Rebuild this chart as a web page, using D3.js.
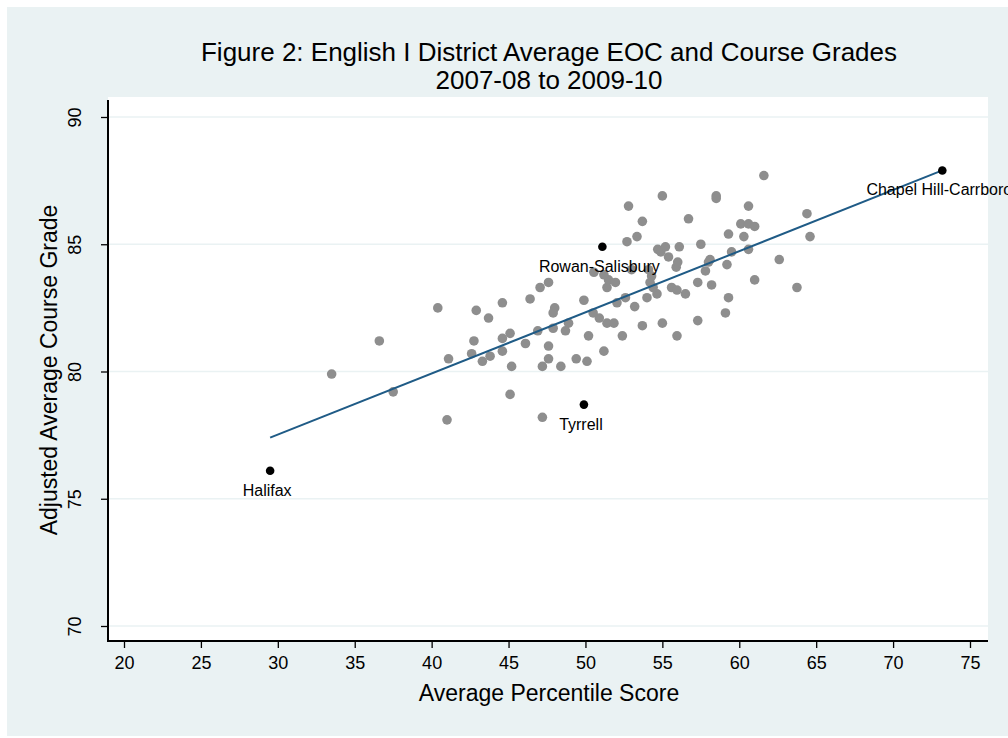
<!DOCTYPE html>
<html>
<head>
<meta charset="utf-8">
<script src="https://cdn.jsdelivr.net/npm/d3@7"></script>
<style>
  body { margin: 0; background: #ffffff; }
  svg { display: block; font-family: "Liberation Sans", Arial, sans-serif; }
</style>
</head>
<body>
<svg width="1008" height="738"></svg>
<script>
// district averages (percentile score, adjusted course grade)
const districtX = [33.5, 36.6, 37.5, 40.4, 41.1, 41.0, 42.9, 43.7, 42.75, 42.6, 43.3, 43.8,
	44.6, 46.4, 49.9, 48.0, 47.9, 45.1, 44.6, 46.9, 47.9, 48.9, 48.7, 46.1, 47.6, 44.6,
	47.6, 45.2, 47.2, 48.4, 49.4, 50.1, 50.2, 51.2, 45.1, 47.2, 47.05, 47.6,
	50.5, 50.9, 51.4, 51.85, 52.4, 52.05, 52.6, 53.2, 53.7, 54.0, 54.65, 55.0, 55.95, 56.5,
	57.3, 59.1, 59.3, 54.4, 55.6, 55.95, 51.4, 58.2, 57.3, 54.2, 51.5, 51.95, 61.0, 54.3,
	50.55, 51.2, 57.8, 53.0, 54.1, 55.9, 59.2, 58.0, 58.1, 56.0, 55.4, 62.6, 60.6, 59.5,
	57.5, 56.1, 54.7, 54.9, 55.2, 52.7, 53.35, 64.6, 60.3, 59.3, 60.1, 60.6, 61.0, 56.7,
	53.7, 64.4, 52.8, 60.6, 58.5, 58.5, 55.0, 61.6, 63.75];
const districtY = [79.9, 81.2, 79.2, 82.5, 80.5, 78.1, 82.4, 82.1, 81.2, 80.7, 80.4, 80.6,
	82.7, 82.85, 82.8, 82.5, 82.3, 81.5, 81.3, 81.6, 81.7, 81.9, 81.6, 81.1, 81.0, 80.8,
	80.5, 80.2, 80.2, 80.2, 80.5, 80.4, 81.4, 80.8, 79.1, 78.2, 83.3, 83.5,
	82.3, 82.1, 81.9, 81.9, 81.4, 82.7, 82.9, 82.55, 81.8, 82.9, 83.05, 81.9, 81.4, 83.05,
	82.0, 82.3, 82.9, 83.3, 83.3, 83.2, 83.3, 83.4, 83.5, 83.5, 83.6, 83.5, 83.6, 83.75,
	83.9, 83.8, 83.95, 84.0, 84.0, 84.1, 84.2, 84.3, 84.4, 84.3, 84.5, 84.4, 84.8, 84.7,
	85.0, 84.9, 84.8, 84.7, 84.9, 85.1, 85.3, 85.3, 85.3, 85.4, 85.8, 85.8, 85.7, 86.0,
	85.9, 86.2, 86.5, 86.5, 86.9, 86.8, 86.9, 87.7, 83.3];

// labelled districts
const namedDistricts = ["Halifax", "Tyrrell", "Rowan-Salisbury", "Chapel Hill-Carrboro"];
const namedX = [29.5, 49.9, 51.1, 73.2];
const namedY = [76.1, 78.7, 84.9, 87.9];

// fitted line end points
const fitX = [29.5, 73.2];
const fitY = [77.4, 87.9];

const xTicks = [20, 25, 30, 35, 40, 45, 50, 55, 60, 65, 70, 75];
const yTicks = [70, 75, 80, 85, 90];

const svg = d3.select("svg");
const bgColor = "#eaf2f3";

svg.append("rect")
	.attr("x", 7).attr("y", 7)
	.attr("width", 1001).attr("height", 729)
	.attr("fill", bgColor);

const plot = { left: 108, right: 988, top: 97, bottom: 641 };

svg.append("rect")
	.attr("x", plot.left).attr("y", plot.top)
	.attr("width", plot.right - plot.left).attr("height", plot.bottom - plot.top)
	.attr("fill", "#ffffff");

const x = d3.scaleLinear().domain([20, 75]).range([124, 970]);
const y = d3.scaleLinear().domain([70, 90]).range([626, 117]);

// grid lines
svg.append("g")
	.selectAll("line")
	.data(yTicks)
	.join("line")
		.attr("x1", plot.left).attr("x2", plot.right)
		.attr("y1", d => y(d)).attr("y2", d => y(d))
		.attr("stroke", bgColor)
		.attr("stroke-width", 1.5);

// axes
const xAxis = svg.append("g")
	.attr("transform", `translate(0, ${plot.bottom})`)
	.call(d3.axisBottom(x).tickValues(xTicks).tickSize(7).tickPadding(8));
xAxis.select(".domain").remove();
xAxis.selectAll("line").attr("stroke-width", 1.3);
xAxis.selectAll("text")
	.attr("font-size", 18)
	.attr("font-family", "Liberation Sans, Arial, sans-serif")
	.attr("fill", "#000");

const yAxis = svg.append("g")
	.attr("transform", `translate(${plot.left}, 0)`)
	.call(d3.axisLeft(y).tickValues(yTicks).tickSize(7).tickFormat(d3.format("d")));
yAxis.select(".domain").remove();
yAxis.selectAll("line").attr("stroke-width", 1.3);
yAxis.selectAll("text")
	.attr("x", null).attr("dy", null)
	.attr("text-anchor", "middle")
	.attr("transform", "translate(-33, 0) rotate(-90)")
	.attr("dy", "0.35em")
	.attr("font-size", 18)
	.attr("font-family", "Liberation Sans, Arial, sans-serif")
	.attr("fill", "#000");

svg.append("line")
	.attr("x1", plot.left).attr("x2", plot.left)
	.attr("y1", 100).attr("y2", plot.bottom + 1)
	.attr("stroke", "#000").attr("stroke-width", 2);
svg.append("line")
	.attr("x1", plot.left - 1).attr("x2", plot.right)
	.attr("y1", plot.bottom).attr("y2", plot.bottom)
	.attr("stroke", "#000").attr("stroke-width", 2);

// points
svg.append("g")
	.selectAll("circle")
	.data(districtX)
	.join("circle")
		.attr("cx", d => x(d))
		.attr("cy", (d, i) => y(districtY[i]))
		.attr("r", 4.8)
		.attr("fill", "#8e8e8e");

// fit line
svg.append("line")
	.attr("x1", x(fitX[0])).attr("y1", y(fitY[0]))
	.attr("x2", x(fitX[1])).attr("y2", y(fitY[1]))
	.attr("stroke", "#1f5b86")
	.attr("stroke-width", 2);

// labelled districts
const named = svg.append("g");
named.selectAll("circle")
	.data(namedDistricts)
	.join("circle")
		.attr("cx", (d, i) => x(namedX[i]))
		.attr("cy", (d, i) => y(namedY[i]))
		.attr("r", 4.3)
		.attr("fill", "#000");
named.selectAll("text")
	.data(namedDistricts)
	.join("text")
		.attr("x", (d, i) => x(namedX[i]) - 3)
		.attr("y", (d, i) => y(namedY[i]) + 25)
		.attr("text-anchor", "middle")
		.attr("font-size", 16)
		.attr("fill", "#000")
		.text(d => d);

// titles
const title = svg.append("text")
	.attr("text-anchor", "middle")
	.attr("font-size", 26)
	.attr("fill", "#000");
title.append("tspan").attr("x", 549).attr("y", 61)
	.text("Figure 2: English I District Average EOC and Course Grades");
title.append("tspan").attr("x", 549).attr("y", 89)
	.text("2007-08 to 2009-10");

svg.append("text")
	.attr("x", 549).attr("y", 701)
	.attr("text-anchor", "middle")
	.attr("font-size", 23)
	.text("Average Percentile Score");

svg.append("text")
	.attr("transform", "translate(57, 370) rotate(-90)")
	.attr("text-anchor", "middle")
	.attr("font-size", 23)
	.text("Adjusted Average Course Grade");
</script>
</body>
</html>
